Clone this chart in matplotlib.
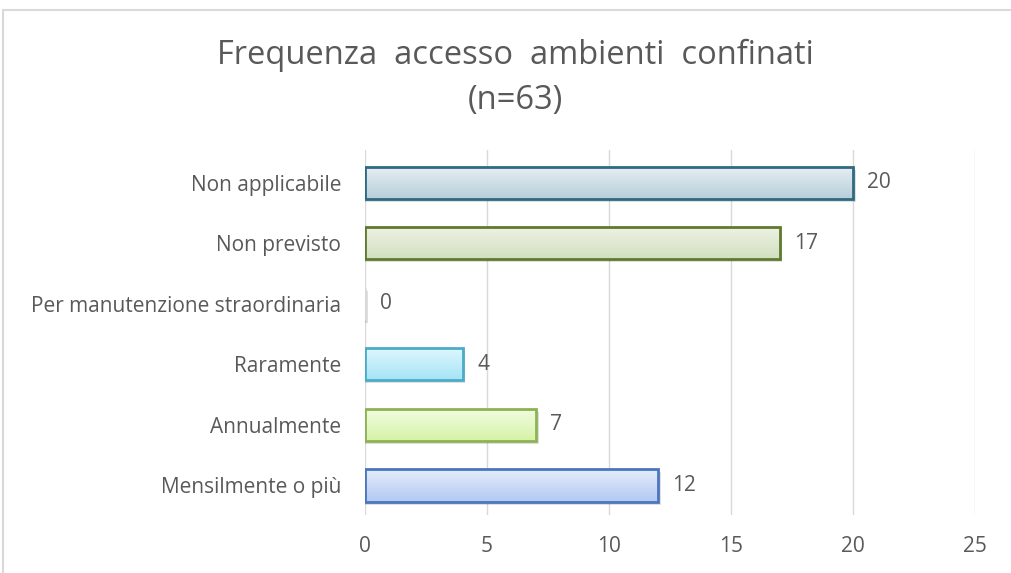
import matplotlib.pyplot as plt
import numpy as np
from matplotlib.patches import Rectangle
from matplotlib.colors import to_rgb

# data
categories = ['Mensilmente o più', 'Annualmente', 'Raramente',
              'Per manutenzione straordinaria', 'Non previsto', 'Non applicabile']
values = [12, 7, 4, 0, 17, 20]
edge_colors = ['#4A76BE', '#8DB255', '#4BACC6', '#D9D9D9', '#5E7A2E', '#2E6A80']
top_colors = ['#E4ECFB', '#F2FCE2', '#E0F7FD', '#F2F2F2', '#EEF2E6', '#E8EFF3']
bottom_colors = ['#B3C9F2', '#D6F3A6', '#A6E4F6', '#E6E6E6', '#D2DFBF', '#B6CEDA']

plt.rcParams['font.family'] = ['Open Sans', 'DejaVu Sans']

fig = plt.figure(figsize=(10.11, 5.73), dpi=100)
ax = fig.add_axes([0.361, 0.101, 0.603, 0.637])

# outer chart border
fig.patches.append(Rectangle((0.003, -0.01), 1.2, 0.993, transform=fig.transFigure,
                             fill=False, edgecolor='#D9D9D9', linewidth=1.5))

h = 0.53
y = np.arange(len(categories))
for i, v in enumerate(values):
    # soft shadow
    ax.add_patch(Rectangle((0, y[i] - h / 2 - 0.05), v + 0.12, h,
                           facecolor='#000000', alpha=0.12, edgecolor='none', zorder=2))
    bar = ax.barh(y[i], v, height=h, facecolor='none', edgecolor=edge_colors[i],
                  linewidth=2, zorder=4)[0]
    c1 = np.array(to_rgb(top_colors[i]))
    c2 = np.array(to_rgb(bottom_colors[i]))
    t = np.linspace(0, 1, 50)[:, None]
    grad = (c1 * (1 - t) + c2 * t)[:, None, :]
    if v > 0:
        im = ax.imshow(grad, extent=[0, v, y[i] - h / 2, y[i] + h / 2],
                       origin='upper', aspect='auto', zorder=3)
        im.set_clip_path(bar)
    ax.text(v + 0.6, y[i], str(v), va='center', ha='left',
            fontsize=15, color='#595959')

ax.set_xlim(0, 25)
ax.set_ylim(-0.49, 5.54)
ax.set_xticks([0, 5, 10, 15, 20, 25])
ax.set_yticks(y)
ax.set_yticklabels(categories)
ax.grid(axis='x', color='#D9D9D9', linewidth=1, zorder=0)
ax.set_axisbelow(True)
for s in ax.spines.values():
    s.set_visible(False)
ax.tick_params(axis='both', length=0, labelsize=15, colors='#595959')
ax.tick_params(axis='x', pad=15)
ax.tick_params(axis='y', pad=17)

fig.text(0.51, 0.904, 'Frequenza  accesso  ambienti  confinati', ha='center', va='center',
         fontsize=23.5, color='#595959')
fig.text(0.51, 0.825, '(n=63)', ha='center', va='center', fontsize=23.5, color='#595959')

fig.savefig('out.png', dpi=100)
